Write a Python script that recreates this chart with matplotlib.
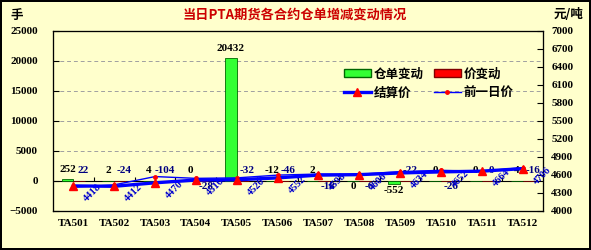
import numpy as np
import matplotlib
matplotlib.use("Agg")
import matplotlib.pyplot as plt
from matplotlib.patches import Patch
from matplotlib.lines import Line2D

# data
contracts = ["TA501", "TA502", "TA503", "TA504", "TA505", "TA506",
             "TA507", "TA508", "TA509", "TA510", "TA511", "TA512"]
warrant_chg = [252, 2, 4, 0, 20432, -12, 2, 0, -552, 0, 0, 4]
price_chg = [22, -24, -104, -28, -32, -46, -18, -6, -22, -26, 0, -16]
settle = [4418, 4412, 4470, 4516, 4520, 4552, 4598, 4606, 4634, 4652, 4664, 4706]
prev_settle = [s - c for s, c in zip(settle, price_chg)]

# label placement (above / below the zero line)
warrant_up = [True, True, True, True, True, True, True, False, False, True, True, True]
price_up = [True, True, True, False, True, True, False, False, True, False, True, True]

bg = "#FFFFCC"
navy = "#000080"
plt.rcParams["font.family"] = ["Liberation Serif", "Noto Sans CJK SC"]
plt.rcParams["font.weight"] = "bold"

fig = plt.figure(figsize=(5.91, 2.5), dpi=100, facecolor=bg,
                 edgecolor="black", linewidth=1.5)
ax = fig.add_axes([0.0897, 0.156, 0.829, 0.72])
ax.set_facecolor(bg)
x = np.arange(len(contracts))
w = 0.29

ax.bar(x - w / 2, warrant_chg, w, color="#33FF33", edgecolor="#006600", linewidth=0.6, zorder=3)
ax.bar(x + w / 2, price_chg, w, color="#FF0000", edgecolor="#800000", linewidth=0.6, zorder=3)
ax.set_ylim(-5000, 25000)
ax.set_yticks(np.arange(-5000, 25001, 5000))
ax.set_xlim(-0.5, len(contracts) - 0.5)
ax.set_xticks(x)
ax.set_xticklabels(contracts)
ax.tick_params(axis="x", length=0, pad=6, labelsize=8)
ax.tick_params(axis="y", direction="in", length=4, labelsize=8, pad=11)
ax.yaxis.grid(True, linestyle=(0, (4, 3)), color="#A0A0A0", linewidth=0.7)
ax.set_axisbelow(True)
ax.axhline(0, color="black", linewidth=0.8, zorder=2)
ax.vlines(x[:-1] + 0.5, 0, 700, color="black", linewidth=0.8, zorder=2)
for s in ax.spines.values():
    s.set_linewidth(0.9)
    s.set_color("#303030")

for i, v in enumerate(warrant_chg):
    if warrant_up[i]:
        ax.annotate(str(v), (x[i] - w / 2, max(v, 0)), xytext=(0, 4), textcoords="offset points",
                    ha="center", va="bottom", fontsize=8, color="black")
    else:
        ax.annotate(str(v), (x[i] - w / 2, min(v, 0)), xytext=(0, -1), textcoords="offset points",
                    ha="center", va="top", fontsize=8, color="black")
for i, v in enumerate(price_chg):
    if price_up[i]:
        ax.annotate(str(v), (x[i] + w / 2, 0), xytext=(3, 4), textcoords="offset points",
                    ha="center", va="bottom", fontsize=8, color=navy)
    else:
        ax.annotate(str(v), (x[i] + w / 2, 0), xytext=(3, -1), textcoords="offset points",
                    ha="center", va="top", fontsize=8, color=navy)

ax2 = ax.twinx()
ax2.set_ylim(4000, 7000)
ax2.set_yticks(np.arange(4000, 7001, 300))
ax2.tick_params(axis="y", direction="in", length=4, labelsize=8, pad=6)
ax2.plot(x, prev_settle, color="#0000FF", linewidth=1, marker="o", markersize=2.5,
         markerfacecolor="red", markeredgecolor="red", zorder=4)
ax2.plot(x, settle, color="#0000FF", linewidth=2.4, marker="^", markersize=6,
         markerfacecolor="red", markeredgecolor="red", zorder=5)
for i, v in enumerate(settle):
    ax2.annotate(str(v), (x[i], v), xytext=(14, -5), textcoords="offset points",
                 ha="center", va="center", rotation=45, fontsize=7.5, color="#0000CC")

handles = [
    Patch(facecolor="#33FF33", edgecolor="#006600"),
    Line2D([], [], color="#0000FF", linewidth=2.4, marker="^", markersize=6,
           markerfacecolor="red", markeredgecolor="red"),
    Patch(facecolor="#FF0000", edgecolor="#800000"),
    Line2D([], [], color="#0000FF", linewidth=1, marker="o", markersize=2.5,
           markerfacecolor="red", markeredgecolor="red"),
]
labels = ["仓单变动", "结算价", "价变动", "前一日价"]
ax2.legend(handles, labels, ncol=2, loc="upper left", bbox_to_anchor=(0.57, 0.86),
           frameon=False, prop={"family": "Noto Sans CJK SC", "weight": "bold", "size": 9},
           handlelength=2.2, handletextpad=0.2, columnspacing=0.8, labelspacing=0.5)

fig.text(0.499, 0.94, "当日PTA期货各合约仓单增减变动情况", ha="center", va="center",
         color="#CC0000", fontsize=9.5, weight="bold", family="Noto Sans CJK SC")
fig.text(0.017, 0.94, "手", ha="left", va="center", fontsize=9, weight="bold",
         family="Noto Sans CJK SC")
fig.text(0.936, 0.94, "元/吨", ha="left", va="center", fontsize=9, weight="bold",
         family="Noto Sans CJK SC")

fig.savefig("out.png", dpi=100, facecolor=fig.get_facecolor(), edgecolor=fig.get_edgecolor())
